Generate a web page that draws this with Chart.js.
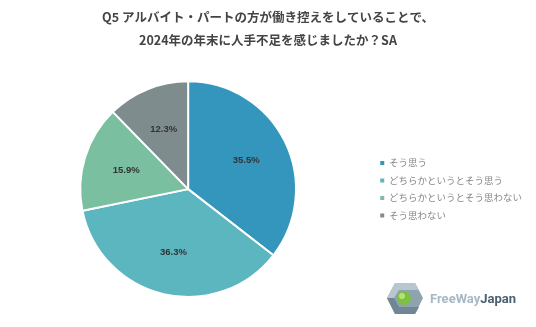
<!DOCTYPE html>
<html>
<head>
<meta charset="utf-8">
<script src="https://cdn.jsdelivr.net/npm/chart.js@4"></script>
<style>
  body { margin: 0; background: #fff; }
  .wrap { position: relative; width: 536px; height: 327px; }
  .logo { position: absolute; left: 386px; top: 282px; display: flex; align-items: center; }
  .logo span { font-family: 'Roboto', sans-serif; font-size: 13px; font-weight: 700; }
</style>
</head>
<body>
<div class="wrap">
  <canvas id="chart" width="536" height="327"></canvas>
  <div class="logo">
    <svg width="38" height="33" viewBox="0 0 38 33">
      <polygon points="9,1 29,1 37,16 29,32 9,32 1,16" fill="#8fa3ae"/>
      <polygon points="9,1 29,1 33,8 13,8 8,16 1,16" fill="#b8c6ce"/>
      <polygon points="1,16 8,16 13,25 33,25 29,32 9,32" fill="#6f8795"/>
      <circle cx="18" cy="16" r="7" fill="#7cc142"/>
      <circle cx="16" cy="14" r="3" fill="#b7e07a"/>
    </svg>
    <span style="color:#a8b8c4; margin-left:6px;">FreeWay</span><span style="color:#4a5f70;">Japan</span>
  </div>
</div>
<script>
const titleLines = ['Q5 アルバイト・パートの方が働き控えをしていることで、', '2024年の年末に人手不足を感じましたか？SA'];
const categories = ['そう思う', 'どちらかというとそう思う', 'どちらかというとそう思わない', 'そう思わない'];
const shares = [35.5, 36.3, 15.9, 12.3];
const colors = ['#3596bd', '#5bb6c0', '#79bfa0', '#7f8c8d'];

// percentage labels inside the slices
const sliceLabels = {
  id: 'sliceLabels',
  afterDatasetsDraw(chart) {
    const ctx = chart.ctx;
    const meta = chart.getDatasetMeta(0);
    ctx.save();
    ctx.font = 'bold 9.5px "Liberation Sans", sans-serif';
    ctx.fillStyle = '#333';
    ctx.textAlign = 'center';
    ctx.textBaseline = 'middle';
    meta.data.forEach((arc, i) => {
      const mid = (arc.startAngle + arc.endAngle) / 2;
      const r = arc.outerRadius * 0.6;
      ctx.fillText(shares[i].toFixed(1) + '%', arc.x + Math.cos(mid) * r, arc.y + Math.sin(mid) * r);
    });
    ctx.restore();
  }
};

new Chart(document.getElementById('chart').getContext('2d'), {
  type: 'pie',
  data: {
    labels: categories,
    datasets: [{
      data: shares,
      backgroundColor: colors,
      borderColor: '#fff',
      borderWidth: 2
    }]
  },
  options: {
    responsive: false,
    animation: false,
    layout: { padding: { left: 4, right: 4, top: 0, bottom: 29 } },
    plugins: {
      title: {
        display: true,
        text: titleLines,
        color: '#444',
        font: { family: '"Noto Sans CJK JP", sans-serif', size: 12.5, weight: 'bold', lineHeight: 1.85 },
        padding: { top: 6, bottom: 28 }
      },
      legend: {
        position: 'right',
        fullSize: false,
        labels: {
          boxWidth: 4,
          boxHeight: 4,
          padding: 8,
          color: '#888',
          font: { family: '"Noto Sans CJK JP", sans-serif', size: 9.5 },
          generateLabels(chart) {
            const items = Chart.overrides.pie.plugins.legend.labels.generateLabels(chart);
            items.forEach(it => { it.lineWidth = 0; });
            return items;
          }
        }
      },
      tooltip: { enabled: false }
    }
  },
  plugins: [sliceLabels]
});
</script>
</body>
</html>
